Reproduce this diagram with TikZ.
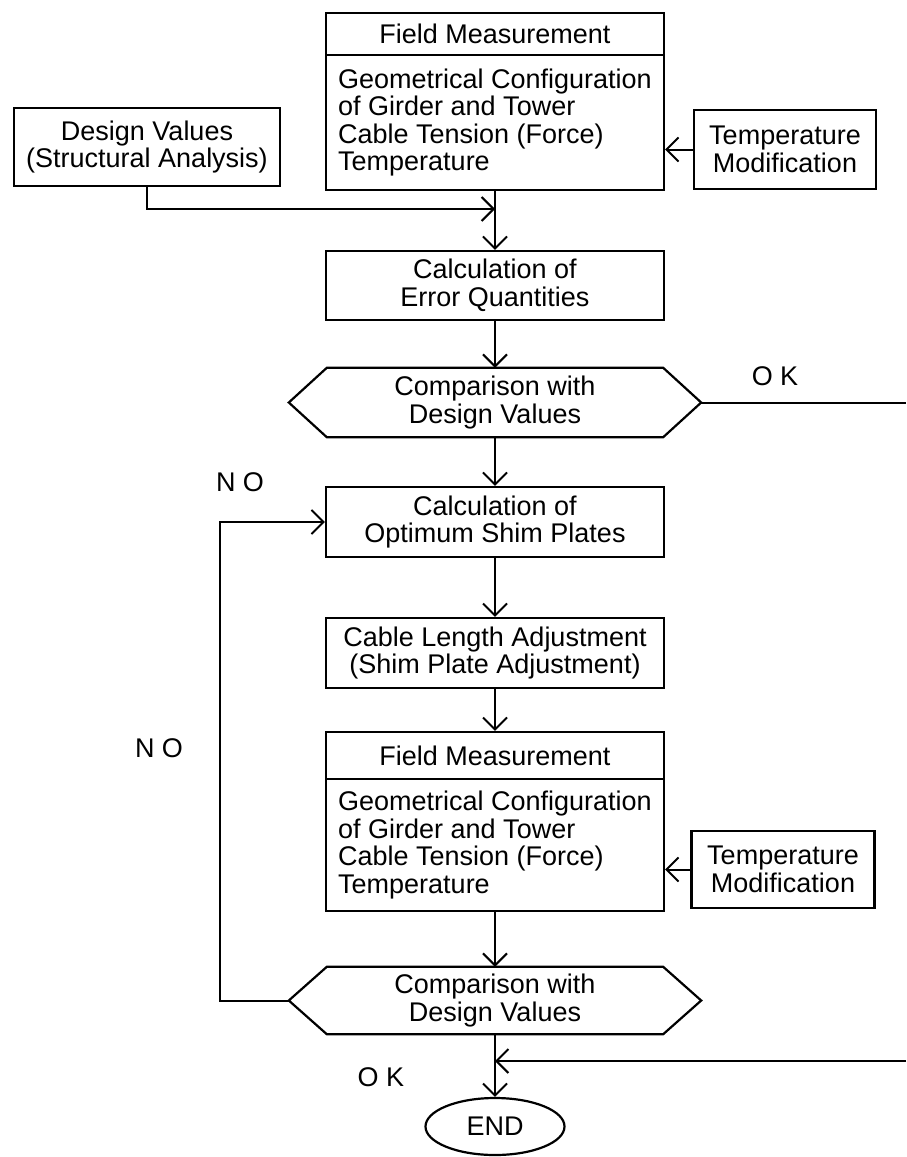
\documentclass[tikz,border=0pt]{standalone}
\usepackage{fontspec}
\setmainfont{Liberation Sans}
\usetikzlibrary{arrows.meta,shapes.geometric}
\begin{document}
\begin{tikzpicture}[x=1pt,y=-1pt,
  every node/.style={font=\fontsize{27}{27.5}\selectfont},
  box/.style={draw,line width=2.2pt,inner sep=0pt,align=center},
  hexcore/.style={inner sep=0pt,align=center,minimum width=336pt},
  lbl/.style={inner sep=0pt},
  conn/.style={line width=2pt},
  arr/.style={conn,-{Straight Barb[length=12pt,width=24pt]}},
  hexline/.style={line width=2.2pt,line join=miter}
]
\useasboundingbox[fill=white] (0,0) rectangle (906,1157);

% top field measurement
\node[box,minimum width=338pt,minimum height=42pt] (fm1h) at (495,34) {Field Measurement};
\node[box,minimum width=338pt,minimum height=135pt,align=left] (fm1b) at (495,122.5)
  {Geometrical Configuration\\of Girder and Tower\\Cable Tension (Force)\\Temperature};
\node[box,minimum width=266pt,minimum height=78pt] (dv) at (147,147) {Design Values\\(Structural Analysis)};
\node[box,minimum width=182pt,minimum height=79pt] (tm1) at (785,149.5) {Temperature\\Modification};

\node[box,minimum width=338pt,minimum height=69pt] (ce) at (495,285.5) {Calculation of\\Error Quantities};

\node[hexcore,minimum height=69pt] (h1) at (495,402.5) {Comparison with\\Design Values};
\coordinate (h1r) at ([xshift=38pt]h1.east);
\coordinate (h1l) at ([xshift=-38pt]h1.west);
\draw[hexline] (h1.north west) -- (h1.north east) -- (h1r) -- (h1.south east) -- (h1.south west) -- (h1l) -- cycle;

\node[box,minimum width=338pt,minimum height=70pt] (opt) at (495,522) {Calculation of\\Optimum Shim Plates};
\node[box,minimum width=338pt,minimum height=70pt] (cab) at (495,653) {Cable Length Adjustment\\(Shim Plate Adjustment)};

\node[box,minimum width=338pt,minimum height=47pt] (fm2h) at (495,755.5) {Field Measurement};
\node[box,minimum width=338pt,minimum height=132pt,align=left] (fm2b) at (495,845)
  {Geometrical Configuration\\of Girder and Tower\\Cable Tension (Force)\\Temperature};
\node[box,minimum width=183pt,minimum height=77pt] (tm2) at (783,869.5) {Temperature\\Modification};

\node[hexcore,minimum height=67pt] (h2) at (495,1000.5) {Comparison with\\Design Values};
\coordinate (h2r) at ([xshift=38pt]h2.east);
\coordinate (h2l) at ([xshift=-38pt]h2.west);
\draw[hexline] (h2.north west) -- (h2.north east) -- (h2r) -- (h2.south east) -- (h2.south west) -- (h2l) -- cycle;

\node[draw,ellipse,line width=2.2pt,inner sep=0pt,minimum width=139pt,minimum height=57pt] (end) at (495,1126.5) {END};

% labels
\node[lbl] (ok1) at (775,376) {O K};
\node[lbl] (no1) at (240,482) {N O};
\node[lbl] (no2) at (159,748) {N O};
\node[lbl] (ok2) at (381,1077) {O K};

% connectors
\coordinate (j1) at (495,209);
\draw[arr] (dv.south) |- (j1);
\draw[arr] (fm1b.south) -- (ce.north);
\draw[arr] (tm1.west) -- (tm1.west -| fm1b.east);
\draw[arr] (ce.south) -- (h1.north);
\draw[arr] (h1.south) -- (opt.north);
\coordinate (e1) at (906,402.5);
\draw[conn] (h1r) -- (e1);
\draw[arr] (opt.south) -- (cab.north);
\draw[arr] (cab.south) -- (fm2h.north);
\draw[arr] (tm2.west) -- (tm2.west -| fm2b.east);
\draw[arr] (fm2b.south) -- (h2.north);
\coordinate (lp) at (220,522);
\draw[arr] (h2l) -| (lp) -- (opt.west);
\coordinate (e2) at (906,1061);
\coordinate (j2) at (495,1061);
\draw[arr] (e2) -- (j2);
\draw[arr] (h2.south) -- (end.north);
\end{tikzpicture}
\end{document}
